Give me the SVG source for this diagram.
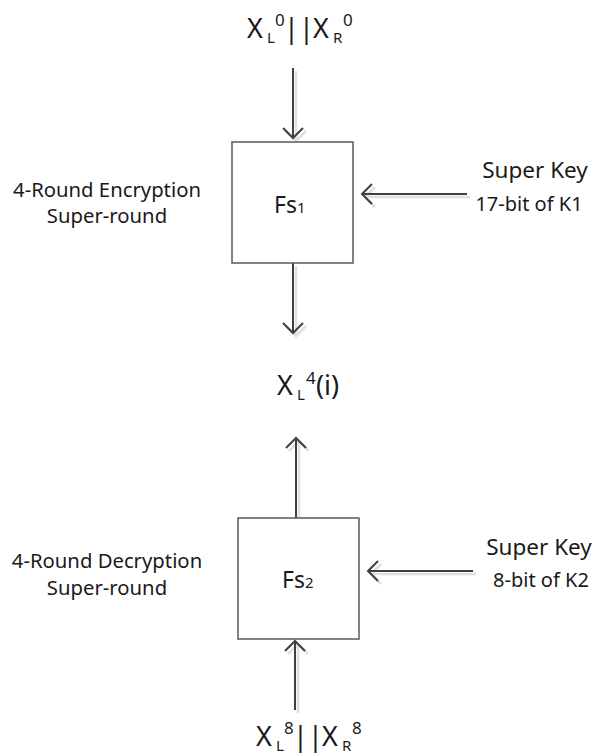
<svg xmlns="http://www.w3.org/2000/svg" xmlns:xlink="http://www.w3.org/1999/xlink" width="599" height="756" viewBox="0 0 599 756">
  <style>
    text { font-family: "Noto Sans", "Open Sans", "Liberation Sans", sans-serif; fill: #1a1a1a; }
    .box { fill: #ffffff; stroke: #5a5a5a; stroke-width: 1.5; }
    .arrow { fill: none; stroke: #404040; stroke-width: 2; stroke-linecap: butt; stroke-linejoin: miter; }
    .shadow { fill: none; stroke: #e0e0e0; stroke-width: 2.5; }
    .big { font-size: 27px; }
    .sub { font-size: 15px; }
    .sup { font-size: 17px; }
    .side { font-size: 20.3px; text-anchor: middle; }
    .key { font-size: 22.5px; text-anchor: middle; }
    .keysub { font-size: 20px; text-anchor: middle; }
    .fn { font-size: 23px; }
    .fnsub { font-size: 15px; }
  </style>
  <defs>
    <path id="a-in1" d="M293,68 V138 M283,128 L293,138 L303,128"/>
    <path id="a-out1" d="M293,263 V333 M283,323 L293,333 L303,323"/>
    <path id="a-out2" d="M296,518 V438 M286,448 L296,438 L306,448"/>
    <path id="a-in2" d="M295,710 V641 M285,651 L295,641 L305,651"/>
    <path id="a-key1" d="M467,194 H362 M372,184 L362,194 L372,204"/>
    <path id="a-key2" d="M473,571 H368 M378,561 L368,571 L378,581"/>
  </defs>

  <!-- connectors: soft drop shadow underneath, dark line on top -->
  <g id="connectors">
    <g class="shadow" transform="translate(3,3)">
      <use xlink:href="#a-in1"/>
      <use xlink:href="#a-out1"/>
      <use xlink:href="#a-out2"/>
      <use xlink:href="#a-in2"/>
      <use xlink:href="#a-key1"/>
      <use xlink:href="#a-key2"/>
    </g>
    <g class="arrow">
      <use xlink:href="#a-in1"/>
      <use xlink:href="#a-out1"/>
      <use xlink:href="#a-out2"/>
      <use xlink:href="#a-in2"/>
      <use xlink:href="#a-key1"/>
      <use xlink:href="#a-key2"/>
    </g>
  </g>

  <!-- input block X_L^0 || X_R^0 -->
  <g id="input-top">
    <text class="big" x="247" y="38">X</text>
    <text class="sub" x="267" y="43">L</text>
    <text class="sup" x="275" y="26">0</text>
    <text class="big" x="284" y="38">||</text>
    <text class="big" x="313" y="38">X</text>
    <text class="sub" x="333" y="43">R</text>
    <text class="sup" x="343" y="26">0</text>
  </g>

  <!-- encryption super-round -->
  <g id="fs1">
    <rect class="box" x="232" y="142" width="121" height="121"/>
    <text x="274" y="213"><tspan class="fn">Fs</tspan><tspan class="fnsub">1</tspan></text>
  </g>
  <g id="label-enc">
    <text class="side" x="107" y="197">4-Round Encryption</text>
    <text class="side" x="107" y="223">Super-round</text>
  </g>
  <g id="key1">
    <text class="key" x="535" y="178">Super Key</text>
    <text class="keysub" x="529" y="211">17-bit of K1</text>
  </g>

  <!-- middle value X_L^4(i) -->
  <g id="middle">
    <text class="big" x="277" y="395">X</text>
    <text class="sub" x="297" y="400">L</text>
    <text class="sup" x="306" y="384">4</text>
    <text class="big" x="316" y="395">(i)</text>
  </g>

  <!-- decryption super-round -->
  <g id="fs2">
    <rect class="box" x="238" y="518" width="121" height="121"/>
    <text x="282" y="588"><tspan class="fn">Fs</tspan><tspan class="fnsub">2</tspan></text>
  </g>
  <g id="label-dec">
    <text class="side" x="107" y="568">4-Round Decryption</text>
    <text class="side" x="107" y="595">Super-round</text>
  </g>
  <g id="key2">
    <text class="key" x="539" y="555">Super Key</text>
    <text class="keysub" x="541" y="587">8-bit of K2</text>
  </g>

  <!-- input block X_L^8 || X_R^8 -->
  <g id="input-bottom">
    <text class="big" x="256" y="746">X</text>
    <text class="sub" x="276" y="751">L</text>
    <text class="sup" x="284" y="734">8</text>
    <text class="big" x="293" y="746">||</text>
    <text class="big" x="322" y="746">X</text>
    <text class="sub" x="342" y="751">R</text>
    <text class="sup" x="352" y="734">8</text>
  </g>
</svg>
